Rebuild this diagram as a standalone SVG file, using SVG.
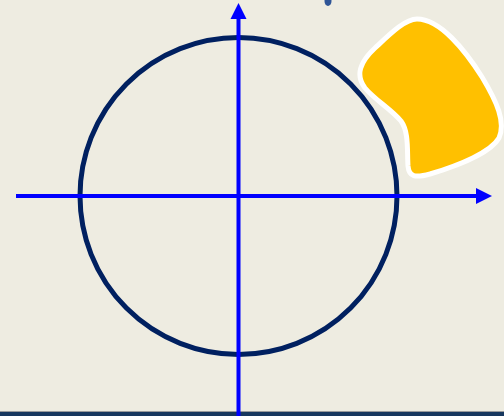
<svg xmlns="http://www.w3.org/2000/svg" width="504" height="416" viewBox="0 0 504 416">
<style>
.axis{stroke:#0000FF;stroke-width:4;fill:none}
.ah{fill:#0000FF}
</style>
<rect width="504" height="416" fill="#EEECE1"/>
<rect x="0" y="411" width="504" height="5" fill="#17375E"/>
<line x1="0" y1="411.5" x2="504" y2="411.5" stroke="#9a9a9a" stroke-width="1"/>
<g id="dot"><ellipse cx="328" cy="1" rx="3.5" ry="5" fill="#2F5597"/></g>
<g id="circle"><circle cx="238.5" cy="196" r="158.5" fill="none" stroke="#002060" stroke-width="5"/></g>
<g id="blob"><path d="M 417,19 C 440,19 465,50 482,77 C 497,102 506,122 499,138 C 491,152 460,165 430,174 C 415,178 409,177 408,166 C 407,150 409,132 401,121 C 391,109 375,100 365,88 C 355,75 360,62 375,48 C 390,34 405,19 417,19 Z" fill="#FFC000" stroke="#FFFFFF" stroke-width="5"/></g>
<g id="connectors">
<line class="axis" x1="16" y1="196" x2="478" y2="196"/>
<polygon class="ah" points="476,188 492,196 476,204"/>
<line class="axis" x1="238.5" y1="416" x2="238.5" y2="17"/>
<polygon class="ah" points="230.5,19 238.5,3 246.5,19"/>
</g>
</svg>
